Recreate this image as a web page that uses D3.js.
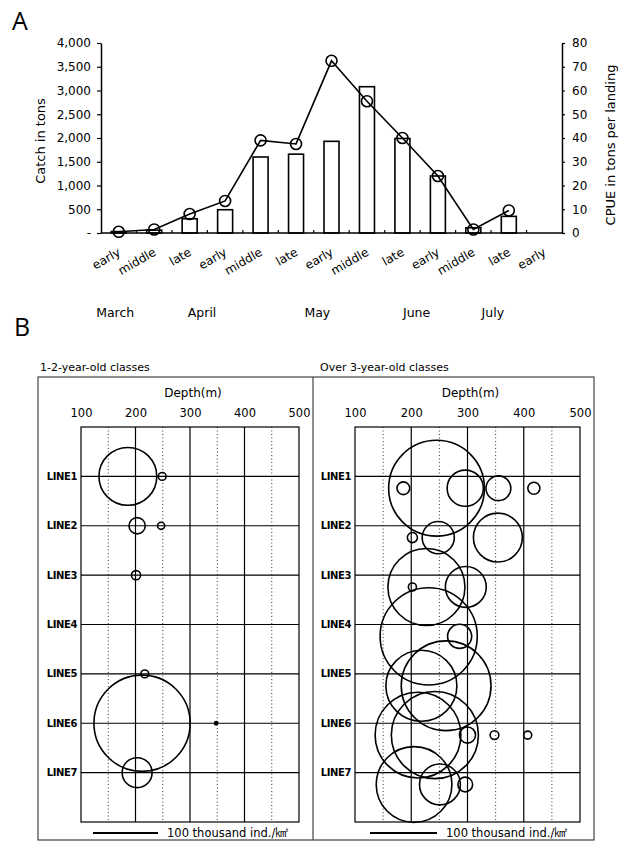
<!DOCTYPE html>
<html>
<head>
<meta charset="UTF-8">
<title>Catch, CPUE and density by depth</title>
<script src="https://d3js.org/d3.v7.min.js"></script>
<style>
  body { margin: 0; background: #fff; }
  svg { display: block; font-family: "DejaVu Sans", sans-serif; }
</style>
</head>
<body>
<div id="chart"></div>
<script>
// ---- panel A: catch (bars) and CPUE (line) by ten-day period ----
const periods = ["early", "middle", "late", "early", "middle", "late", "early",
                 "middle", "late", "early", "middle", "late", "early"];
const months = ["March", "April", "May", "June", "July"];
const catchTons = [30, 60, 300, 490, 1600, 1660, 1930, 3080, 1990, 1200, 110, 350, 0];
const cpue = [0.5, 1.5, 8, 13.5, 39, 37.5, 72.5, 55.5, 40, 24, 1.5, 9.5, null];
const catchTicks = [0, 500, 1000, 1500, 2000, 2500, 3000, 3500, 4000];
const cpueTicks = [0, 10, 20, 30, 40, 50, 60, 70, 80];

// ---- panel B: density by depth along survey lines ----
const lineNames = ["LINE1", "LINE2", "LINE3", "LINE4", "LINE5", "LINE6", "LINE7"];
const depthTicks = [100, 200, 300, 400, 500];
// 1-2-year-old classes
const youngLine    = [1, 1, 2, 2, 3, 5, 6, 6, 7];
const youngDepth   = [186, 249, 203, 247, 201, 217, 212, 348, 203];
const youngDensity = [89, 12, 25, 11, 14, 12, 148, 5, 46];
// over 3-year-old classes
const oldLine    = [1, 1, 1, 1, 1, 2, 2, 2, 3, 3, 3, 4, 4, 5, 5, 6, 6, 6, 6, 6, 7, 7, 7];
const oldDepth   = [245, 186, 296, 355, 418, 202, 248, 354, 202, 227, 297, 231, 286,
                    218, 262, 212, 242, 300, 348, 407, 205, 251, 296];
const oldDensity = [143, 19, 54, 37, 18, 15, 48, 73, 12, 115, 61, 145, 36,
                    106, 134, 128, 130, 24, 13, 12, 113, 61, 22];

const svg = d3.select("#chart").append("svg")
  .attr("width", 627)
  .attr("height", 842);

// panel letters
svg.append("text").attr("x", 12).attr("y", 30)
  .style("font-family", "'Open Sans', sans-serif").style("font-size", "25px").text("A");
svg.append("text").attr("x", 14).attr("y", 336)
  .style("font-family", "'Open Sans', sans-serif").style("font-size", "25px").text("B");

// ================= panel A =================
const base = 233;
const x = d3.scaleBand().domain(d3.range(periods.length)).range([101, 562]);
const cx = i => x(i) + x.bandwidth() / 2;
const yCatch = d3.scaleLinear().domain([0, 4000]).range([base, 43]);
const yCpue = d3.scaleLinear().domain([0, 80]).range([base, 43]);

const a = svg.append("g");

// bars
a.selectAll("rect.bar")
  .data(catchTons)
  .join("rect")
  .attr("class", "bar")
  .attr("x", (d, i) => cx(i) - 7.5)
  .attr("y", d => yCatch(d))
  .attr("width", 15)
  .attr("height", d => base - yCatch(d))
  .attr("fill", "#fff")
  .attr("stroke", "#000")
  .attr("stroke-width", 1.6);

// CPUE line and points
const line = d3.line()
  .defined(d => d != null)
  .x((d, i) => cx(i))
  .y(d => yCpue(d));
a.append("path")
  .datum(cpue)
  .attr("d", line)
  .attr("fill", "none")
  .attr("stroke", "#000")
  .attr("stroke-width", 1.6);
a.selectAll("circle.pt")
  .data(cpue.map((v, i) => ({v, i})).filter(d => d.v != null))
  .join("circle")
  .attr("class", "pt")
  .attr("cx", d => cx(d.i))
  .attr("cy", d => yCpue(d.v))
  .attr("r", 5.5)
  .attr("fill", "none")
  .attr("stroke", "#000")
  .attr("stroke-width", 1.6);

// axes
const axisStyle = g => {
  g.select(".domain").attr("stroke-width", 1.5);
  g.selectAll(".tick line").attr("stroke-width", 1.2);
  g.selectAll("text").style("font-family", "'DejaVu Sans', sans-serif").style("font-size", "12px");
};
a.append("g")
  .attr("transform", "translate(101,0)")
  .call(d3.axisLeft(yCatch).tickValues(catchTicks)
    .tickFormat(d => d === 0 ? "-" : d3.format(",")(d))
    .tickSize(4).tickPadding(6).tickSizeOuter(0))
  .call(axisStyle);
a.append("g")
  .attr("transform", "translate(562,0)")
  .call(d3.axisRight(yCpue).tickValues(cpueTicks)
    .tickSize(3).tickPadding(7).tickSizeOuter(0))
  .call(axisStyle);

// x axis baseline with small ticks at period boundaries
a.append("line")
  .attr("x1", 101).attr("x2", 562).attr("y1", base).attr("y2", base)
  .attr("stroke", "#000").attr("stroke-width", 1.5);
a.selectAll("line.btick")
  .data(d3.range(1, periods.length))
  .join("line")
  .attr("class", "btick")
  .attr("x1", i => x(i)).attr("x2", i => x(i))
  .attr("y1", base).attr("y2", base - 3)
  .attr("stroke", "#000").attr("stroke-width", 1.2);

// period labels
a.selectAll("text.period")
  .data(periods)
  .join("text")
  .attr("class", "period")
  .attr("transform", (d, i) => `translate(${cx(i) + 0.5},251) rotate(-30)`)
  .attr("text-anchor", "end")
  .attr("dy", "0.35em")
  .style("font-size", "12px")
  .text(d => d);

// month labels (placed along the period axis)
const monthAt = [-0.1, 2.35, 5.6, 8.4, 10.55];
a.selectAll("text.month")
  .data(months)
  .join("text")
  .attr("class", "month")
  .attr("x", (d, i) => 101 + x.step() * (monthAt[i] + 0.5))
  .attr("y", 317)
  .attr("text-anchor", "middle")
  .style("font-size", "12.5px")
  .text(d => d);

// axis titles
a.append("text")
  .attr("transform", "translate(45,141) rotate(-90)")
  .attr("text-anchor", "middle")
  .style("font-size", "13px")
  .text("Catch in tons");
a.append("text")
  .attr("transform", "translate(615,145) rotate(-90)")
  .attr("text-anchor", "middle")
  .style("font-size", "13px")
  .text("CPUE in tons per landing");

// ================= panel B =================
const rowY = d3.scaleLinear().domain([0, 8]).range([427, 822]);

// outer frame
svg.append("rect")
  .attr("x", 38).attr("y", 377).attr("width", 556).attr("height", 463)
  .attr("fill", "none").attr("stroke", "#444").attr("stroke-width", 1.2);
svg.append("line")
  .attr("x1", 313).attr("x2", 313).attr("y1", 377).attr("y2", 840)
  .attr("stroke", "#444").attr("stroke-width", 1.2);

const panels = [
  {title: "1-2-year-old classes", tx: 40, x0: 81, x1: 299, legendLen: 65, legendX: 93,
   rowOffset: 0, line: youngLine, depth: youngDepth, dens: youngDensity},
  {title: "Over 3-year-old classes", tx: 320, x0: 355, x1: 580, legendLen: 67, legendX: 370,
   rowOffset: 0.24, line: oldLine, depth: oldDepth, dens: oldDensity}
];

panels.forEach(p => {
  const g = svg.append("g");
  const xs = d3.scaleLinear().domain([100, 500]).range([p.x0, p.x1]);
  const rs = d3.scaleLinear().domain([0, 100]).range([0, p.legendLen / 2]);

  g.append("text").attr("x", p.tx).attr("y", 371)
    .style("font-size", "11px").text(p.title);
  g.append("text")
    .attr("x", (p.x0 + p.x1) / 2 + 3).attr("y", 397)
    .attr("text-anchor", "middle")
    .style("font-size", "12px")
    .text("Depth(m)");

  // depth labels
  const ax = g.append("g")
    .attr("transform", `translate(0,${rowY(0)})`)
    .call(d3.axisTop(xs).tickValues(depthTicks).tickSize(0).tickPadding(10));
  ax.select(".domain").remove();
  ax.selectAll("text").style("font-family", "'DejaVu Sans', sans-serif")
    .style("font-size", "11.5px");

  // dotted half-step grid
  g.selectAll("line.dot")
    .data([150, 250, 350, 450])
    .join("line")
    .attr("class", "dot")
    .attr("x1", d => xs(d)).attr("x2", d => xs(d))
    .attr("y1", rowY(0)).attr("y2", rowY(8))
    .attr("stroke", "#333").attr("stroke-width", 1)
    .attr("stroke-dasharray", "1,2.5");
  // solid depth grid
  g.selectAll("line.vs")
    .data([200, 300, 400])
    .join("line")
    .attr("class", "vs")
    .attr("x1", d => xs(d)).attr("x2", d => xs(d))
    .attr("y1", rowY(0)).attr("y2", rowY(8))
    .attr("stroke", "#000").attr("stroke-width", 1.2);
  // survey line rows
  g.selectAll("line.row")
    .data(lineNames)
    .join("line")
    .attr("class", "row")
    .attr("x1", p.x0).attr("x2", p.x1)
    .attr("y1", (d, i) => rowY(i + 1)).attr("y2", (d, i) => rowY(i + 1))
    .attr("stroke", "#000").attr("stroke-width", 1.2);
  g.selectAll("text.row")
    .data(lineNames)
    .join("text")
    .attr("class", "row")
    .attr("x", p.x0 - 4)
    .attr("y", (d, i) => rowY(i + 1))
    .attr("dy", "0.35em")
    .attr("text-anchor", "end")
    .style("font-size", "10px")
    .style("font-weight", "bold")
    .style("letter-spacing", "-0.4px")
    .text(d => d);
  // plot border
  g.append("rect")
    .attr("x", p.x0).attr("y", rowY(0))
    .attr("width", p.x1 - p.x0).attr("height", rowY(8) - rowY(0))
    .attr("fill", "none").attr("stroke", "#000").attr("stroke-width", 1.2);

  // density circles
  g.selectAll("circle.dens")
    .data(p.dens.map((v, i) => ({v, line: p.line[i], depth: p.depth[i]})))
    .join("circle")
    .attr("class", "dens")
    .attr("cx", d => xs(d.depth))
    .attr("cy", d => rowY(d.line + p.rowOffset))
    .attr("r", d => rs(d.v))
    .attr("fill", d => rs(d.v) < 2.5 ? "#000" : "none")
    .attr("stroke", "#000")
    .attr("stroke-width", 1.6);

  // size legend
  g.append("line")
    .attr("x1", p.legendX).attr("x2", p.legendX + p.legendLen)
    .attr("y1", 833).attr("y2", 833)
    .attr("stroke", "#000").attr("stroke-width", 2.2);
  const lt = g.append("text")
    .attr("x", p.legendX + p.legendLen + 9).attr("y", 837)
    .style("font-size", "11.5px");
  lt.append("tspan").text("100 thousand ind./");
  lt.append("tspan").style("font-size", "14px").text("㎢");
});
</script>
</body>
</html>
